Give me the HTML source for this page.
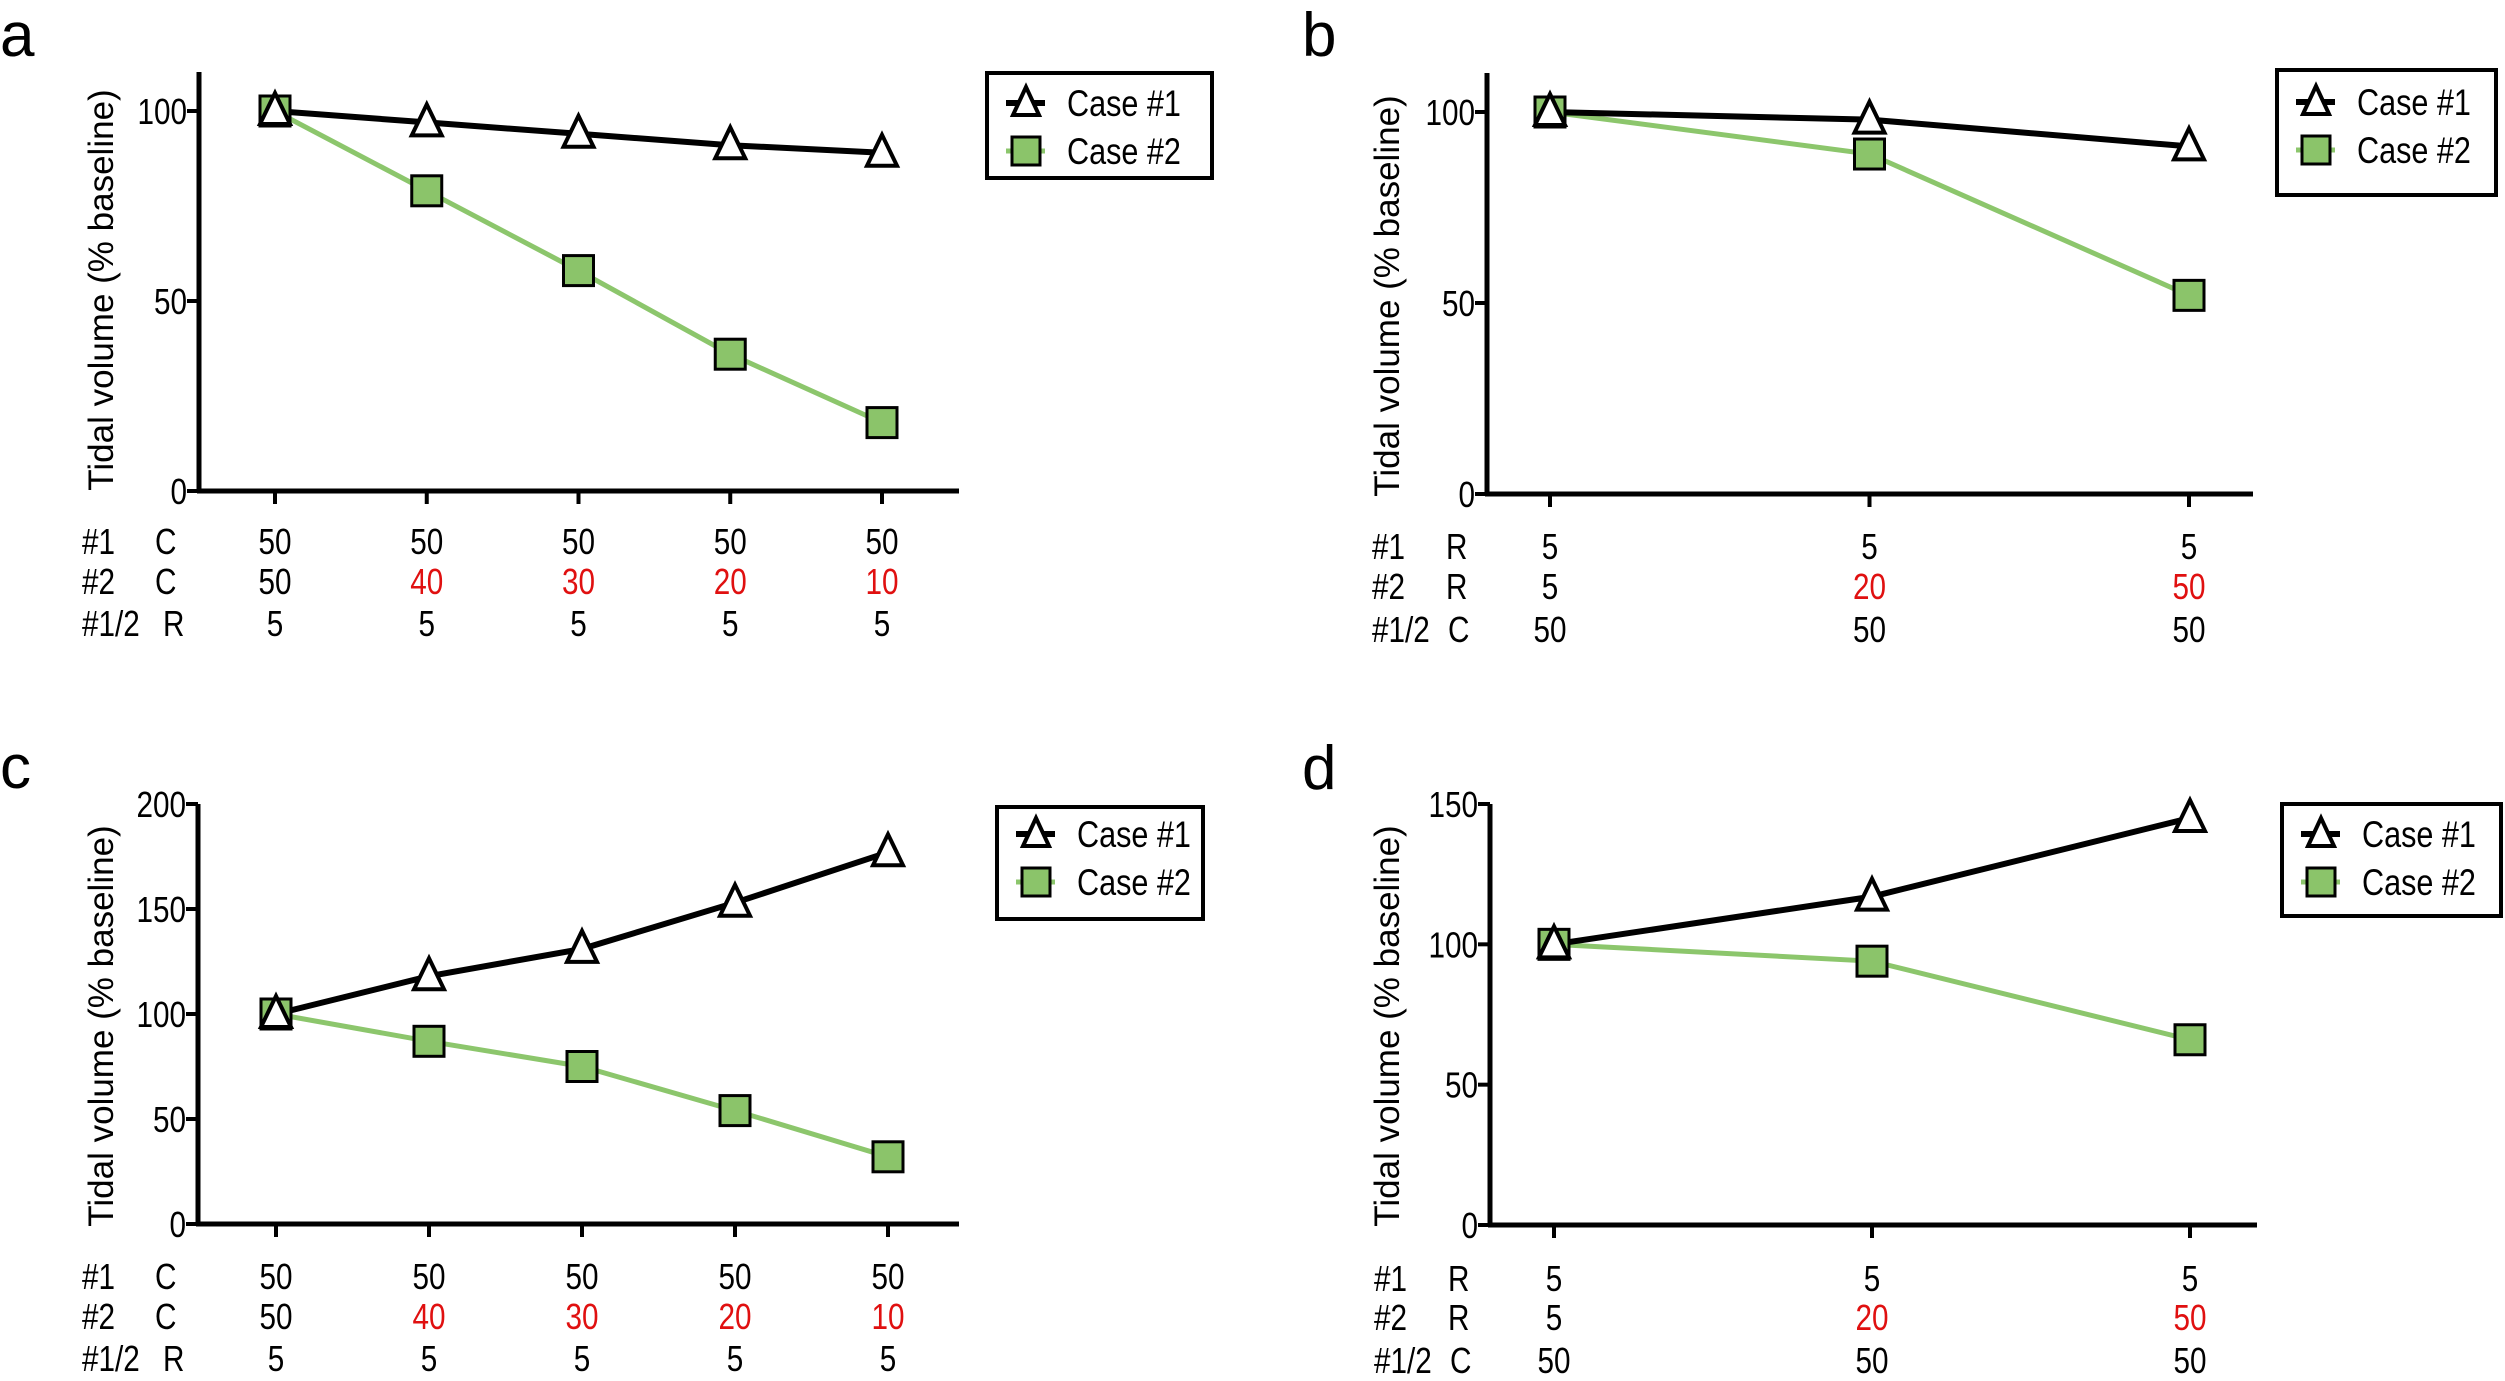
<!DOCTYPE html>
<html><head><meta charset="utf-8">
<style>
html,body{margin:0;padding:0;background:#fff;}
svg{display:block;font-family:"Liberation Sans",Arial,sans-serif;}
</style></head>
<body>
<svg id="fig" width="2505" height="1381" viewBox="0 0 2505 1381" xmlns="http://www.w3.org/2000/svg"></svg>
<script>
// ---- data ----
const aCase1 = [100, 97, 94, 91, 89];
const aCase2 = [100, 79, 58, 36, 18];
const bCase1 = [100, 98, 91];
const bCase2 = [100, 89, 52];
const cCase1 = [100, 118, 131, 153, 177];
const cCase2 = [100, 87, 75, 54, 32];
const dCase1 = [100, 117, 145];
const dCase2 = [100, 94, 66];
const aTicks = [0, 50, 100];
const bTicks = [0, 50, 100];
const cTicks = [0, 50, 100, 150, 200];
const dTicks = [0, 50, 100, 150];
const acRowLabels = [["#1", "C"], ["#2", "C"], ["#1/2", "R"]];
const bdRowLabels = [["#1", "R"], ["#2", "R"], ["#1/2", "C"]];
const acRow1 = ["50", "50", "50", "50", "50"];
const acRow2 = ["50", "40", "30", "20", "10"];
const acRow3 = ["5", "5", "5", "5", "5"];
const bdRow1 = ["5", "5", "5"];
const bdRow2 = ["5", "20", "50"];
const bdRow3 = ["50", "50", "50"];
const legendLabels = ["Case #1", "Case #2"];

const NS = "http://www.w3.org/2000/svg";
const svg = document.getElementById("fig");
const GREEN = "#8cc66c", GREENF = "#8bc46a", RED = "#e01010";
function mk(tag, attrs, parent) {
  const e = document.createElementNS(NS, tag);
  for (const k in attrs) e.setAttribute(k, attrs[k]);
  (parent || svg).appendChild(e);
  return e;
}
function txt(s, x, y, size, anchor, fill, parent) {
  const t = mk("text", {x: 0, y: 0, "font-size": size, "text-anchor": anchor || "start", fill: fill || "#000",
    transform: "translate(" + x + "," + y + ") scale(0.9,1.1)"}, parent);
  t.textContent = s;
  return t;
}

function panel(cfg) {
  const g = mk("g", {});
  
  
  const ymax = cfg.ticks[cfg.ticks.length - 1];
  const yS = v => cfg.y0 - (v / ymax) * (cfg.y0 - cfg.yTopTick);
  const n = cfg.s1.length;
  const xS = i => cfg.xFirst + i * (cfg.xLast - cfg.xFirst) / (n - 1);

  const letter = mk("text", {x: cfg.letterX, y: cfg.letterY, "font-size": 62}, g);
  letter.textContent = cfg.id;
  
  

  const ax = mk("g", {}, g);
  
  
  mk("line", {x1: cfg.ax, y1: cfg.axTop, x2: cfg.ax, y2: cfg.y0 + 2, stroke: "#000", "stroke-width": 5}, ax);
  mk("line", {x1: cfg.ax - 2, y1: cfg.y0, x2: cfg.axEnd, y2: cfg.y0, stroke: "#000", "stroke-width": 5}, ax);
  cfg.ticks.forEach(t => {
    const y = yS(t);
    mk("line", {x1: cfg.ax - 12, y1: y, x2: cfg.ax, y2: y, stroke: "#000", "stroke-width": 4}, ax);
    const l = txt(String(t), cfg.ax - 12, y + 13, 33, "end", "#000", ax);
    
    
  });
  for (let i = 0; i < n; i++) {
    mk("line", {x1: xS(i), y1: cfg.y0, x2: xS(i), y2: cfg.y0 + 13, stroke: "#000", "stroke-width": 4}, ax);
  }
  const yt = mk("text", {x: 0, y: 0, "font-size": 35, "text-anchor": "middle"}, g);
  yt.textContent = "Tidal volume (% baseline)";
  yt.setAttribute("transform", "translate(" + (cfg.labX) + "," + cfg.labY + ") rotate(-90)");
  
  

  const p2 = cfg.s2.map((v, i) => xS(i) + "," + yS(v)).join(" ");
  const l2 = mk("polyline", {points: p2, fill: "none", stroke: GREEN, "stroke-width": 5}, g);
  
  
  const p1 = cfg.s1.map((v, i) => xS(i) + "," + yS(v)).join(" ");
  const l1 = mk("polyline", {points: p1, fill: "none", stroke: "#000", "stroke-width": 6}, g);
  
  
  cfg.s2.forEach((v, i) => {
    const r = mk("rect", {x: xS(i) - 15, y: yS(v) - 15, width: 30, height: 30, fill: GREENF, stroke: "#000", "stroke-width": 3}, g);
    
    
  });
  cfg.s1.forEach((v, i) => {
    const x = xS(i), y = yS(v);
    const t = mk("polygon", {points: (x) + "," + (y - 18) + " " + (x - 15) + "," + (y + 13) + " " + (x + 15) + "," + (y + 13), fill: "#fff", stroke: "#000", "stroke-width": 4}, g);
    
    
  });

  const rows = [cfg.r1, cfg.r2, cfg.r3];
  rows.forEach((row, ri) => {
    const y = cfg.rowY[ri] + 13;
    const a = txt(cfg.rowLabels[ri][0], cfg.rowLabX, y, 33, "start", "#000", g);
    
    
    const b = txt(cfg.rowLabels[ri][1], ri === 2 ? cfg.rowPar3X : cfg.rowParX, y, 33, "start", "#000", g);
    
    
    row.forEach((s, i) => {
      const red = ri === 1 && i > 0;
      const t = txt(s, xS(i), y, 33, "middle", red ? RED : "#000", g);
      
      
    });
  });

  const lg = mk("g", {}, g);
  
  
  const L = cfg.leg;
  mk("rect", {x: L[0], y: L[1], width: L[2], height: L[3], fill: "#fff", stroke: "#000", "stroke-width": 4}, lg);
  legendLabels.forEach((s, i) => {
    const cy = L[1] + cfg.legOff + i * 48;
    const e = mk("g", {}, lg);
    
    
    const mx = L[0] + 39;
    if (i === 0) {
      mk("line", {x1: L[0] + 19, y1: cy, x2: L[0] + 58, y2: cy, stroke: "#000", "stroke-width": 6}, e);
      mk("polygon", {points: mx + "," + (cy - 16) + " " + (mx - 13) + "," + (cy + 12) + " " + (mx + 13) + "," + (cy + 12), fill: "#fff", stroke: "#000", "stroke-width": 4}, e);
    } else {
      mk("line", {x1: L[0] + 19, y1: cy, x2: L[0] + 58, y2: cy, stroke: GREEN, "stroke-width": 5}, e);
      mk("rect", {x: mx - 14, y: cy - 14, width: 28, height: 28, fill: GREENF, stroke: "#000", "stroke-width": 3}, e);
    }
    txt(s, L[0] + 80, cy + 13, 34, "start", "#000", e);
  });
}

panel({id: "a", s1: aCase1, s2: aCase2, ticks: aTicks, ax: 199, axTop: 72, axEnd: 959, y0: 491, yTopTick: 111,
  xFirst: 275, xLast: 882, labX: 113, labY: 290, letterX: 0, letterY: 56,
  r1: acRow1, r2: acRow2, r3: acRow3, rowLabels: acRowLabels, rowY: [541, 581, 623], rowLabX: 82, rowParX: 155, rowPar3X: 163,
  leg: [987, 73, 225, 105], legOff: 30});
panel({id: "b", s1: bCase1, s2: bCase2, ticks: bTicks, ax: 1487, axTop: 73, axEnd: 2253, y0: 494, yTopTick: 112,
  xFirst: 1550, xLast: 2189, labX: 1399, labY: 296, letterX: 1302, letterY: 56,
  r1: bdRow1, r2: bdRow2, r3: bdRow3, rowLabels: bdRowLabels, rowY: [546, 586, 629], rowLabX: 1372, rowParX: 1446, rowPar3X: 1448,
  leg: [2277, 70, 219, 125], legOff: 32});
panel({id: "c", s1: cCase1, s2: cCase2, ticks: cTicks, ax: 198, axTop: 804, axEnd: 959, y0: 1224, yTopTick: 804,
  xFirst: 276, xLast: 888, labX: 113, labY: 1026, letterX: 0, letterY: 788,
  r1: acRow1, r2: acRow2, r3: acRow3, rowLabels: acRowLabels, rowY: [1276, 1316, 1358], rowLabX: 82, rowParX: 155, rowPar3X: 163,
  leg: [997, 807, 206, 112], legOff: 27});
panel({id: "d", s1: dCase1, s2: dCase2, ticks: dTicks, ax: 1490, axTop: 804, axEnd: 2257, y0: 1225, yTopTick: 804,
  xFirst: 1554, xLast: 2190, labX: 1399, labY: 1026, letterX: 1302, letterY: 789,
  r1: bdRow1, r2: bdRow2, r3: bdRow3, rowLabels: bdRowLabels, rowY: [1278, 1317, 1360], rowLabX: 1374, rowParX: 1448, rowPar3X: 1450,
  leg: [2282, 804, 219, 112], legOff: 30});
</script>
</body></html>
